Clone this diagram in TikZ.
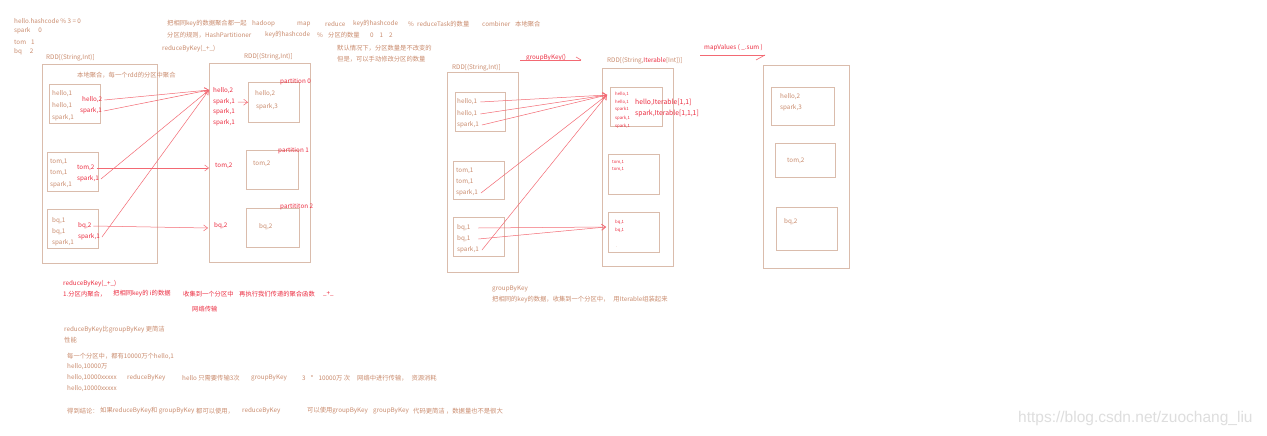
\documentclass[tikz,border=0pt]{standalone}
\usepackage{fontspec}
\setmainfont{Noto Sans CJK SC}
\newfontfamily\wmfont{Liberation Sans}
\usetikzlibrary{arrows.meta}
\definecolor{tc}{RGB}{202,140,110}
\definecolor{rc}{RGB}{236,45,65}
\definecolor{lc}{RGB}{243,105,115}
\definecolor{bc}{RGB}{218,188,172}
\definecolor{wm}{RGB}{222,222,222}
\tikzset{
  t/.style={anchor=west,inner sep=0pt,text=tc,font=\fontsize{6.3}{7}\selectfont},
  r/.style={anchor=west,inner sep=0pt,text=rc,font=\fontsize{6.3}{7}\selectfont},
  tiny/.style={anchor=west,inner sep=0pt,text=tc,font=\fontsize{4.3}{5}\selectfont},
  rtiny/.style={anchor=west,inner sep=0pt,text=rc,font=\fontsize{4.3}{5}\selectfont},
  box/.style={draw=bc,line width=0.7pt},
  bnode/.style={draw=bc,line width=0.7pt,anchor=north west,inner sep=0pt},
  arr/.style={draw=lc,line width=0.5pt,-{Straight Barb[length=4pt,width=6pt]}},
  ln/.style={draw=lc,line width=0.6pt},
}
\begin{document}
\begin{tikzpicture}[x=1pt,y=-1pt]
\fill[white] (0,0) rectangle (1267,436);
\useasboundingbox (0,0) rectangle (1267,436);

% ---- top-left notes
\node[t] (n1) at (14,21) {hello.hashcode \% 3 = 0};
\node[t] (n2) at (14,31) {spark\hspace{8pt}0};
\node[t] (n3) at (14,42) {tom\hspace{5pt}1};
\node[t] (n4) at (14,52) {bq\hspace{8pt}2};

% ---- top notes
\node[t] (m1) at (167,24) {把相同key的数据聚合都一起};
\node[t] (m2) at (252,24) {hadoop};
\node[t] (m3) at (297,24) {map};
\node[t] (m4) at (325,24) {reduce};
\node[t] (m5) at (353,24) {key的hashcode};
\node[t] (m6) at (408,24) {\%};
\node[t] (m7) at (417,24) {reduceTask的数量};
\node[t] (m8) at (482,24) {combiner};
\node[t] (m9) at (515,24) {本地聚合};
\node[t] (k1) at (167,35) {分区的规则，HashPartitioner};
\node[t] (k2) at (265,35) {key的hashcode};
\node[t] (k3) at (317,35) {\%};
\node[t] (k4) at (328,35) {分区的数量};
\node[t] (k5) at (370,35) {0\hspace{6pt}1\hspace{6pt}2};
\node[t] (rbk) at (162,49) {reduceByKey(\_+\_)};
\node[t] (d1) at (337,48) {默认情况下，分区数量是不改变的};
\node[t] (d2) at (337,59) {但是，可以手动修改分区的数量};

% ---- RDD 1
\node[t] (L1) at (46,58) {RDD[(String,Int)]};
\draw[box] (42,64) rectangle (157,263);
\node[t] (loc) at (77,75) {本地聚合，每一个rdd的分区中聚合};
\draw[box] (49,84) rectangle (100,123);
\node[t] (a1) at (52,94) {hello,1};
\node[t] (a2) at (52,106) {hello,1};
\node[t] (a3) at (52,118) {spark,1};
\node[r] (ah) at (82,100) {hello,2};
\node[r] (as) at (80,111) {spark,1};
\draw[box] (47,152) rectangle (98,191);
\node[t] (b1) at (50,162) {tom,1};
\node[t] (b2) at (50,173) {tom,1};
\node[t] (b3) at (50,185) {spark,1};
\node[r] (bt) at (77,168) {tom,2};
\node[r] (bs) at (77,179) {spark,1};
\draw[box] (47,209) rectangle (98,248);
\node[t] (c1) at (52,221) {bq,1};
\node[t] (c2) at (52,232) {bq,1};
\node[t] (c3) at (52,243) {spark,1};
\node[r] (cb) at (78,226) {bq,2};
\node[r] (cs) at (78,237) {spark,1};

% ---- RDD 2
\node[t] (L2) at (244,57) {RDD[(String,Int)]};
\draw[box] (209,63) rectangle (310,262);
\node[r] (e1) at (213,91) {hello,2};
\node[r] (e2) at (213,102) {spark,1};
\node[r] (e3) at (213,112) {spark,1};
\node[r] (e4) at (213,123) {spark,1};
\node[r] (et) at (215,166) {tom,2};
\node[r] (eb) at (214,226) {bq,2};
\node[bnode,minimum width=51pt,minimum height=40pt] (p0) at (248,82) {};
\node[t] (p0a) at (255,94) {hello,2};
\node[t] (p0b) at (256,107) {spark,3};
\node[r] (p0l) at (280,82) {partition 0};
\node[bnode,minimum width=52pt,minimum height=39pt] (p1) at (246,150) {};
\node[t] (p1a) at (253,164) {tom,2};
\node[r] (p1l) at (278,151) {partition 1};
\node[bnode,minimum width=53pt,minimum height=39pt] (p2) at (246,208) {};
\node[t] (p2a) at (259,227) {bq,2};
\node[r] (p2l) at (280,207) {partititon 2};

\coordinate (g0) at (209,90);
\coordinate (gt) at (209,168);
\coordinate (gb) at (208,228);
\draw[arr] ([xshift=2pt]ah.east) -- (g0);
\draw[arr] ([xshift=2pt]as.east) -- (g0);
\draw[arr] ([xshift=2pt]bs.east) -- (g0);
\draw[arr] ([xshift=2pt]cs.east) -- (g0);
\draw[arr] ([xshift=2pt]bt.east) -- (gt);
\draw[arr] ([xshift=2pt]cb.east) -- (gb);
\draw[arr] ([xshift=3pt]e2.east) -- (p0.west);

% ---- bottom notes (reduceByKey)
\node[r] (f1) at (63,284) {reduceByKey(\_+\_)};
\node[r] (f2) at (63,294) {1.分区内聚合，};
\node[r] (f3) at (113,294) {把相同key的 i的数据};
\node[r] (f4) at (183,294) {收集到一个分区中};
\node[r] (f5) at (239,294) {再执行我们传递的聚合函数};
\node[r] (f6) at (323,294) {\_+\_};
\node[r] (f7) at (192,309) {网络传输};

\node[t] (h1) at (64,330) {reduceByKey比groupByKey 更简洁};
\node[t] (h2) at (64,340) {性能};
\node[t] (h3) at (67,356) {每一个分区中，都有10000万个hello,1};
\node[t] (h4) at (67,367) {hello,10000万};
\node[t] (h5) at (67,378) {hello,10000xxxxx};
\node[t] (h6) at (127,378) {reduceByKey};
\node[t] (h7) at (182,378) {hello 只需要传输3次};
\node[t] (h8) at (251,378) {groupByKey};
\node[t] (h9) at (302,378) {3\hspace{5pt}*\hspace{5pt}10000万 次};
\node[t] (h10) at (357,378) {网络中进行传输，\hspace{4pt}资源消耗};
\node[t] (h11) at (67,389) {hello,10000xxxxx};
\node[t] (j1) at (67,411) {得到结论：};
\node[t] (j2) at (100,411) {如果reduceByKey和 groupByKey};
\node[t] (j3) at (196,411) {都可以使用，};
\node[t] (j4) at (242,411) {reduceByKey};
\node[t] (j5) at (307,411) {可以使用groupByKey};
\node[t] (j6) at (373,411) {groupByKey};
\node[t] (j7) at (413,411) {代码更简洁 ，数据量也不是很大};

% ---- groupByKey
\node[r] (gk) at (526,58) {groupByKey()};
\coordinate (gk0) at (520,60);
\coordinate (gk1) at (581,60);
\draw[ln] (gk0) -- (gk1);
\draw[ln] (gk1) -- ++(-5,-3);

\node[t] (L3) at (452,68) {RDD[(String,Int)]};
\draw[box] (447,72) rectangle (518,272);
\draw[box] (455,92) rectangle (505,131);
\node[t] (q1) at (457,102) {hello,1};
\node[t] (q2) at (457,114) {hello,1};
\node[t] (q3) at (457,125) {spark,1};
\draw[box] (453,161) rectangle (504,199);
\node[t] (s1) at (456,171) {tom,1};
\node[t] (s2) at (456,182) {tom,1};
\node[t] (s3) at (456,193) {spark,1};
\draw[box] (453,217) rectangle (504,256);
\node[t] (u1) at (457,228) {bq,1};
\node[t] (u2) at (457,239) {bq,1};
\node[t] (u3) at (457,250) {spark,1};

\node[t] (L4) at (607,61) {RDD[(String,{\color{rc}Iterable}[Int])]};
\draw[box] (602,68) rectangle (673,266);
\draw[box] (610,87) rectangle (662,126);
\node[rtiny] (v1) at (615,94) {hello,1};
\node[rtiny] (v2) at (615,102) {hello,1};
\node[rtiny] (v3) at (615,109) {spark1};
\node[rtiny] (v4) at (615,118) {spark,1};
\node[rtiny] (v5) at (615,126) {spark,1};
\node[r,font=\fontsize{6.8}{8}\selectfont] (vi1) at (635,102) {hello,Iterable[1,1]};
\node[r,font=\fontsize{6.8}{8}\selectfont] (vi2) at (635,114) {spark,Iterable[1,1,1]};
\draw[box] (608,154) rectangle (659,194);
\node[rtiny] (w1) at (612,162) {tom,1};
\node[rtiny] (w2) at (612,169) {tom,1};
\draw[box] (608,212) rectangle (659,252);
\node[rtiny] (x1) at (615,222) {bq,1};
\node[rtiny] (x2) at (615,230) {bq,1};
\node[tiny] (x3) at (616,247) {.};

\coordinate (k0) at (607,95);
\coordinate (kb) at (606,227);
\draw[arr] ([xshift=3pt]q1.east) -- (k0);
\draw[arr] ([xshift=3pt]q2.east) -- (k0);
\draw[arr] ([xshift=3pt]q3.east) -- (k0);
\draw[arr] ([xshift=3pt]s3.east) -- (k0);
\draw[arr] ([xshift=3pt]u3.east) -- (k0);
\draw[arr] ([xshift=8pt]u1.east) -- (kb);
\draw[arr] ([xshift=8pt]u2.east) -- (kb);

% ---- mapValues
\node[r] (mv) at (704,48) {mapValues ( \_.sum )};
\coordinate (mv0) at (700,55);
\coordinate (mv1) at (765,55);
\draw[ln] (mv0) -- (mv1);
\draw[ln] (mv1) -- ++(-9,5);

\draw[box] (763,65) rectangle (849,268);
\draw[box] (771,87) rectangle (834,125);
\node[t] (y1) at (780,97) {hello,2};
\node[t] (y2) at (780,108) {spark,3};
\draw[box] (775,143) rectangle (835,177);
\node[t] (y3) at (787,161) {tom,2};
\draw[box] (776,207) rectangle (837,250);
\node[t] (y4) at (784,222) {bq,2};

\node[t] (gn1) at (492,289) {groupByKey};
\node[t] (gn2) at (492,300) {把相同的key的数据，收集到一个分区中，\hspace{4pt}用Iterable组装起来};

% ---- watermark
\node[anchor=west,inner sep=0pt,text=wm,font=\wmfont\fontsize{15.5}{17}\selectfont] (wmk) at (1018,418) {https://blog.csdn.net/zuochang\_liu};
\end{tikzpicture}
\end{document}
